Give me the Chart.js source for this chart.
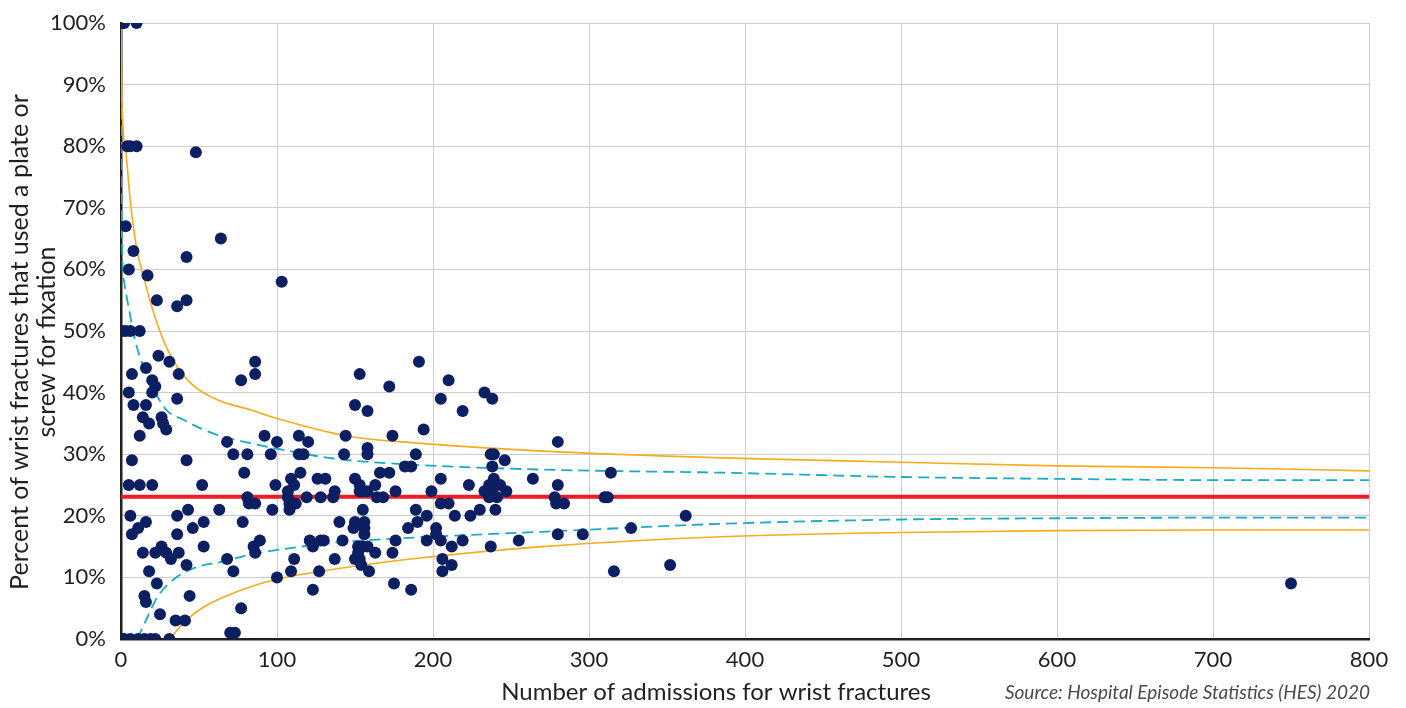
<!DOCTYPE html>
<html>
<head>
<meta charset="utf-8">
<title>Wrist fracture fixation funnel plot</title>
<script src="https://cdn.jsdelivr.net/npm/chart.js@4"></script>
<style>
  html, body { margin: 0; padding: 0; background: #fff; }
  #wrap { width: 1406px; height: 708px; position: relative; }
</style>
</head>
<body>
<div id="wrap"><canvas id="funnelChart" width="1406" height="708"></canvas></div>
<script>
// each hospital: [admissions for wrist fractures, % using plate or screw]
const hospitals = [
    [1,100],[2,100],[10,100],[4,80],[6,80],[10,80],[48,79],[3,67],[64,65],[8,63],[42,62],
    [5,60],[17,59],[103,58],[23,55],[42,55],[36,54],[0.5,50],[3,50],[6,50],[12,50],
    [24,46],[31,45],[86,45],[7,43],[16,44],[37,43],[86,43],[77,42],[20,42],[22,41],
    [5,40],[20,40],[36,39],[8,38],[16,38],[14,36],[18,35],[26,36],[27,35],[29,34],[12,33],
    [68,32],[72,30],[81,30],[7,29],[42,29],[79,27],[5,25],[12,25],[20,25],[52,25],
    [81,23],[82,22],[86,22],[6,20],[43,21],[63,21],[36,20],[16,19],[11,18],[7,17],
    [53,19],[78,19],[46,18],[36,17],[53,15],[26,15],[22,14],[14,14],[29,14],[32,13],
    [37,14],[68,13],[42,12],[85,15],[86,14],[18,11],[72,11],[23,9],[15,7],[16,6],[44,7],
    [77,5],[25,4],[35,3],[41,3],[1,0],[2,0],[6,0],[11,0],[15,0],[19,0],[22,0],[31,0],
    [70,1],[73,1],
    [153,43],[191,45],[172,41],[150,38],[158,37],
    [92,33],[100,32],[114,33],[120,32],[144,33],[174,33],
    [96,30],[114,30],[117,30],[143,30],[158,31],[158,30],[189,30],
    [115,27],[109,26],[126,26],[131,26],[99,25],[111,25],[107,24],[137,24],
    [150,26],[153,25],[155,24],[158,24],[153,24],[163,25],[166,27],[172,27],[176,24],
    [182,28],[186,28],[107,23],[108,22],[112,22],
    [119,23],[128,23],[136,23],[164,23],[168,23],
    [97,21],[108,21],[155,21],[189,21],
    [140,19],[150,19],[156,19],[149,18],[156,18],[156,17],
    [190,19],[184,18],[176,16],[89,16],
    [121,16],[123,15],[128,16],[130,16],[142,16],
    [152,15],[155,15],[158,15],[152,14],
    [111,13],[137,13],[150,13],[153,13],[163,14],[174,14],
    [154,12],[159,11],[109,11],[127,11],[100,10],[123,8],[175,9],[186,8],
    [210,42],[205,39],[233,40],[238,39],[219,37],[194,34],[280,32],
    [237,30],[239,30],[238,28],[246,29],
    [205,26],[223,25],[199,24],[239,26],
    [233,24],[236,25],[238,24],[243,25],[241,23],[247,24],[236,23],
    [264,26],[280,25],[278,23],[279,22],[284,22],[205,22],[210,22],
    [196,20],[214,20],[224,20],[230,21],[240,21],
    [202,18],[202,17],[196,16],[205,16],[219,16],[212,15],[237,15],[255,16],[280,17],
    [206,13],[212,12],[206,11],
    [314,27],[310,23],[312,23],[362,20],[296,17],[327,18],[316,11],[352,12],[750,9]
];

const nationalAverage = 23.1;

// control limits
const upper998X = [0, 0.5, 3, 6, 10, 15, 20, 28, 36, 47, 62, 83, 100, 144, 190, 270, 385, 500, 600, 700, 800];
const upper998Y = [100, 88, 79.5, 71, 63.5, 58.3, 53.7, 48, 44.2, 41, 38.8, 37.2, 35.8, 33, 31.8, 30.5, 29.4, 28.7, 28.1, 27.8, 27.3];

const upper95X = [0, 0.3, 2, 5, 9, 14, 19, 29, 40, 51, 62, 83, 104, 136, 180, 270, 385, 500, 600, 700, 800];
const upper95Y = [100, 70, 58, 53.7, 48.5, 44.5, 41.5, 37.2, 35.6, 34.2, 33.1, 31.8, 30.7, 29.3, 28.4, 27.5, 27.0, 26.3, 26.0, 25.8, 25.8];

const lower95X = [10.5, 17, 23.5, 36, 49, 64, 83, 104, 136, 190, 270, 385, 500, 600, 700, 800];
const lower95Y = [0, 3.6, 6.9, 10.1, 11.7, 12.5, 13.7, 14.6, 15.6, 16.5, 17.4, 18.7, 19.4, 19.6, 19.7, 19.7];

const lower998X = [31, 42, 53, 64, 83, 100, 144, 190, 270, 385, 500, 600, 700, 800];
const lower998Y = [0, 3.1, 5.2, 6.6, 8.5, 9.7, 11.6, 13.1, 15.0, 16.6, 17.3, 17.6, 17.7, 17.7];

const xTicksMax = 800;
const yTicksMax = 100;

const toPoints = (xs, ys) => xs.map((x, i) => ({ x: x, y: ys[i] }));

const textColor = '#231f20';
const orange = '#f8ab1c';
const teal = '#17abc6';

const limitLine = (label, xs, ys, color, dash) => ({
    type: 'line',
    label: label,
    data: toPoints(xs, ys),
    borderColor: color,
    borderWidth: dash ? 1.8 : 1.6,
    borderDash: dash ? [11, 6] : [],
    pointRadius: 0,
    fill: false,
    cubicInterpolationMode: 'monotone',
    order: 2
});

const outsideText = {
    id: 'outsideText',
    afterDraw(chart) {
        const ctx = chart.ctx;
        ctx.save();
        ctx.fillStyle = textColor;
        ctx.font = '24px Lato';
        ctx.textAlign = 'center';
        ctx.textBaseline = 'middle';
        ctx.fillText('Number of admissions for wrist fractures', 716, 692);

        ctx.font = '25px Lato';
        ctx.translate(0, 342);
        ctx.rotate(-Math.PI / 2);
        ctx.fillText('Percent of wrist fractures that used a plate or', 0, 20);
        ctx.fillText('screw for fixation', 0, 47);
        ctx.restore();

        ctx.save();
        ctx.fillStyle = '#4a4a4a';
        ctx.font = 'italic 19px Lato';
        ctx.textAlign = 'right';
        ctx.textBaseline = 'middle';
        ctx.fillText('Source: Hospital Episode Statistics (HES) 2020', 1370, 693);
        ctx.restore();
    }
};

new Chart(document.getElementById('funnelChart'), {
    type: 'scatter',
    data: {
        datasets: [
            {
                label: 'Hospitals',
                data: hospitals.map(h => ({ x: h[0], y: h[1] })),
                backgroundColor: '#0c1f62',
                borderWidth: 0,
                pointRadius: 6,
                pointHoverRadius: 6,
                order: 0
            },
            {
                type: 'line',
                label: 'Average',
                data: [{ x: 0, y: nationalAverage }, { x: xTicksMax, y: nationalAverage }],
                borderColor: '#ed1c24',
                borderWidth: 4,
                pointRadius: 0,
                order: 1
            },
            limitLine('Upper 99.8%', upper998X, upper998Y, orange, false),
            limitLine('Lower 99.8%', lower998X, lower998Y, orange, false),
            limitLine('Upper 95%', upper95X, upper95Y, teal, true),
            limitLine('Lower 95%', lower95X, lower95Y, teal, true)
        ]
    },
    options: {
        responsive: false,
        animation: false,
        events: [],
        layout: { padding: { top: 23, right: 37, left: 0, bottom: 0 } },
        plugins: {
            legend: { display: false },
            tooltip: { enabled: false }
        },
        scales: {
            x: {
                type: 'linear',
                min: 0,
                max: xTicksMax,
                afterFit: scale => {
                    scale.height = 69;
                    scale.paddingLeft = 0;
                    scale.paddingRight = 0;
                },
                grid: { color: '#cccccc', lineWidth: 1, drawTicks: false },
                border: { color: textColor, width: 2.5 },
                ticks: {
                    stepSize: 100,
                    padding: 8,
                    color: textColor,
                    font: { family: 'Lato', size: 22 }
                }
            },
            y: {
                min: 0,
                max: yTicksMax,
                afterFit: scale => {
                    scale.width = 121;
                    scale.paddingTop = 0;
                    scale.paddingBottom = 0;
                },
                grid: { color: '#cccccc', lineWidth: 1, drawTicks: false },
                border: { color: textColor, width: 2.5 },
                ticks: {
                    stepSize: 10,
                    padding: 15,
                    color: textColor,
                    font: { family: 'Lato', size: 22 },
                    callback: v => v + '%'
                }
            }
        }
    },
    plugins: [outsideText]
});
</script>
</body>
</html>
